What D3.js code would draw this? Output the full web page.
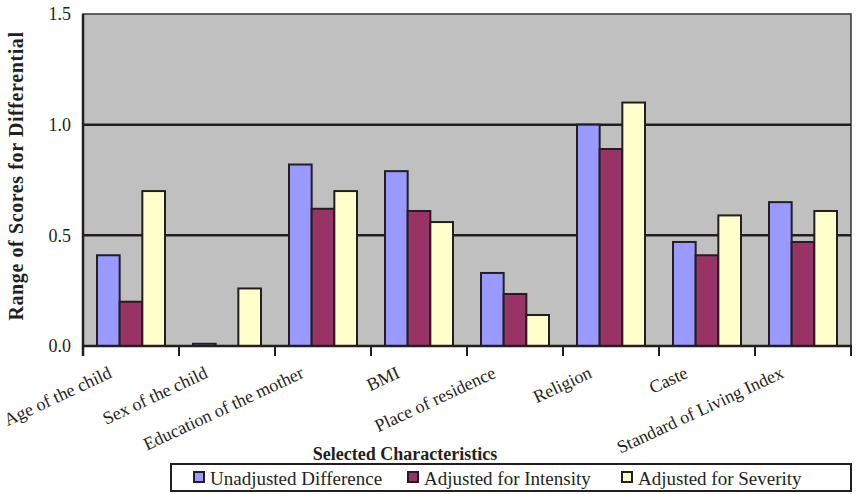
<!DOCTYPE html>
<html>
<head>
<meta charset="utf-8">
<script src="https://cdn.jsdelivr.net/npm/d3@7"></script>
<style>
  body { margin: 0; background: #fff; }
  text { font-family: "Liberation Serif", "Times New Roman", serif; fill: #231f20; }
</style>
</head>
<body>
<svg id="chart" width="856" height="494"></svg>
<script>
var categories = ['Age of the child', 'Sex of the child', 'Education of the mother', 'BMI',
  'Place of residence', 'Religion', 'Caste', 'Standard of Living Index']
var seriesNames = ['Unadjusted Difference', 'Adjusted for Intensity', 'Adjusted for Severity']
var unadjusted = [0.41, 0.01, 0.82, 0.79, 0.33, 1.00, 0.47, 0.65]
var intensity  = [0.20, 0.00, 0.62, 0.61, 0.235, 0.89, 0.41, 0.47]
var severity   = [0.70, 0.26, 0.70, 0.56, 0.14, 1.10, 0.59, 0.61]
var yTicks = [0, 0.5, 1.0, 1.5]
var colors = ['#9999ff', '#993366', '#ffffcc']

var seriesVals = [unadjusted, intensity, severity]
var data = categories.map((c, i) => ({
  cat: c,
  vals: seriesNames.map((s, j) => ({s, j, v: seriesVals[j][i]}))
}))

var svg = d3.select('#chart')
var ink = '#231f20'

var m = {left: 83, right: 851, top: 14, bottom: 346}

var x = d3.scaleBand().domain(categories).range([m.left, m.right]).padding(0)
var xs = d3.scaleBand().domain(seriesNames).range([14, x.bandwidth() - 14]).padding(0)
var y = d3.scaleLinear().domain([0, 1.5]).range([m.bottom, m.top])

// plot background
svg.append('rect')
  .attr('x', m.left).attr('y', m.top)
  .attr('width', m.right - m.left).attr('height', m.bottom - m.top)
  .attr('fill', '#c0c0c0')
  .attr('stroke', '#3a3536').attr('stroke-width', 1.5)

// gridlines
svg.append('g').selectAll('line')
  .data(yTicks.filter(d => d > 0 && d < 1.5))
  .join('line')
  .attr('x1', m.left).attr('x2', m.right)
  .attr('y1', d => y(d)).attr('y2', d => y(d))
  .attr('stroke', ink).attr('stroke-width', 2.5)

// bars
var groups = svg.append('g').selectAll('g')
  .data(data)
  .join('g')
  .attr('transform', d => `translate(${x(d.cat)},0)`)

groups.selectAll('rect')
  .data(d => d.vals.filter(e => e.v > 0))
  .join('rect')
  .attr('x', d => xs(d.s))
  .attr('width', xs.bandwidth())
  .attr('y', d => y(d.v))
  .attr('height', d => y(0) - y(d.v))
  .attr('fill', d => colors[d.j])
  .attr('stroke', ink).attr('stroke-width', 2)

// axes lines
svg.append('line')
  .attr('x1', m.left).attr('x2', m.left).attr('y1', m.top).attr('y2', m.bottom + 10)
  .attr('stroke', ink).attr('stroke-width', 2.5)
svg.append('line')
  .attr('x1', m.left).attr('x2', m.right + 1).attr('y1', m.bottom).attr('y2', m.bottom)
  .attr('stroke', ink).attr('stroke-width', 2.5)

// x ticks
var tickXs = categories.map(c => x(c)).concat([m.right])
svg.append('g').selectAll('line')
  .data(tickXs)
  .join('line')
  .attr('x1', d => d).attr('x2', d => d)
  .attr('y1', m.bottom).attr('y2', m.bottom + 10)
  .attr('stroke', ink).attr('stroke-width', 2)

// y tick labels
svg.append('g').selectAll('text')
  .data(yTicks)
  .join('text')
  .attr('x', 71)
  .attr('y', d => y(d))
  .attr('dy', '0.35em')
  .attr('text-anchor', 'end')
  .attr('font-size', 18)
  .text(d3.format('.1f'))

// x labels
svg.append('g').selectAll('text')
  .data(categories)
  .join('text')
  .attr('transform', d => `translate(${x(d) + x.bandwidth() / 2 - 18},${m.bottom + 31}) rotate(-25)`)
  .attr('text-anchor', 'end')
  .attr('font-size', 18)
  .text(d => d)

// axis titles
svg.append('text')
  .attr('transform', `translate(23,${(m.top + m.bottom) / 2 - 4}) rotate(-90)`)
  .attr('text-anchor', 'middle')
  .attr('font-size', 20)
  .attr('letter-spacing', 0.6)
  .attr('font-weight', 'bold')
  .text('Range of Scores for Differential')

svg.append('text')
  .attr('x', 405).attr('y', 460)
  .attr('text-anchor', 'middle')
  .attr('font-size', 18)
  .attr('font-weight', 'bold')
  .text('Selected Characteristics')

// legend
var legend = svg.append('g')
legend.append('rect')
  .attr('x', 171).attr('y', 464).attr('width', 680).attr('height', 27)
  .attr('fill', '#fff').attr('stroke', ink).attr('stroke-width', 2)

var lx = d3.scalePoint().domain(seriesNames).range([194, 622])
var items = legend.selectAll('g.item')
  .data(seriesNames)
  .join('g')
  .attr('transform', d => `translate(${lx(d)},472)`)
items.append('rect')
  .attr('width', 10).attr('height', 10)
  .attr('fill', (d, i) => colors[i])
  .attr('stroke', ink).attr('stroke-width', 2)
items.append('text')
  .attr('x', 16).attr('y', 12.5)
  .attr('font-size', 19)
  .text(d => d)
</script>
</body>
</html>
